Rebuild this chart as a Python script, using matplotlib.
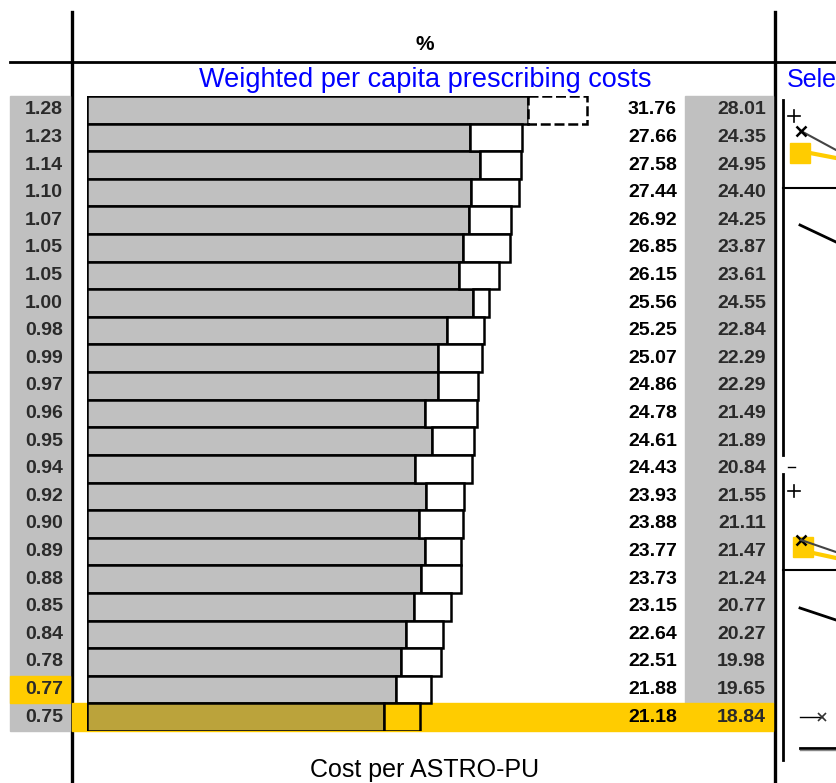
import matplotlib
matplotlib.use("Agg")
import matplotlib.pyplot as plt
from matplotlib.patches import Rectangle
from matplotlib.transforms import blended_transform_factory

plt.rcParams['font.family'] = ['Liberation Sans', 'DejaVu Sans']

# values, one row per practice
ratio = [1.28, 1.23, 1.14, 1.10, 1.07, 1.05, 1.05, 1.00, 0.98, 0.99, 0.97, 0.96,
         0.95, 0.94, 0.92, 0.90, 0.89, 0.88, 0.85, 0.84, 0.78, 0.77, 0.75]
cost_weighted = [31.76, 27.66, 27.58, 27.44, 26.92, 26.85, 26.15, 25.56, 25.25, 25.07, 24.86, 24.78,
                 24.61, 24.43, 23.93, 23.88, 23.77, 23.73, 23.15, 22.64, 22.51, 21.88, 21.18]
cost_astro = [28.01, 24.35, 24.95, 24.40, 24.25, 23.87, 23.61, 24.55, 22.84, 22.29, 22.29, 21.49,
              21.89, 20.84, 21.55, 21.11, 21.47, 21.24, 20.77, 20.27, 19.98, 19.65, 18.84]
highlight = 22  # selected practice (last row)

n = len(ratio)
rows = list(range(n))
W, H = 836, 783
gold = '#FFCC00'
grey = '#C0C0C0'

fig = plt.figure(figsize=(W / 100, H / 100), dpi=100)

# overlay in pixel units for the sheet grid
ov = fig.add_axes([0, 0, 1, 1], zorder=0)
ov.set_xlim(0, W)
ov.set_ylim(H, 0)
ov.axis('off')

# bar area
px = 15.74  # pixels per unit of cost
ax = fig.add_axes([87 / W, (H - 731) / H, (W - 87) / W, 635 / H], zorder=1)
ax.set_xlim(0, (W - 87) / px)
ax.set_ylim(n - 0.5, -0.5)
ax.axis('off')

tr = blended_transform_factory(ov.transData, ax.transData)

# cell backgrounds
ax.add_patch(Rectangle((10, -0.5), 60, n, transform=tr, color=grey, zorder=0, clip_on=False))
ax.add_patch(Rectangle((685, -0.5), 88, n - 1, transform=tr, color=grey, zorder=0, clip_on=False))
ax.add_patch(Rectangle((72, highlight - 0.5), 701, 1, transform=tr, color=gold, zorder=0, clip_on=False))
ax.add_patch(Rectangle((10, highlight - 1.5), 60, 1, transform=tr, color=gold, zorder=0, clip_on=False))

# bars
bar_cols = [grey] * n
bar_cols[highlight] = '#BBA33B'
ext_cols = ['white'] * n
ext_cols[highlight] = gold
extra = [w - a for w, a in zip(cost_weighted, cost_astro)]
ax.barh(rows, cost_astro, height=1, color=bar_cols, edgecolor='black', linewidth=1.8, zorder=2)
ext = ax.barh(rows, extra, left=cost_astro, height=1, color=ext_cols, edgecolor='black',
              linewidth=1.8, zorder=2)
ext[0].set_linestyle((0, (4, 1.5)))

# row labels
for i in rows:
    c = '#2a2a2a'
    ax.text(63, i, '%.2f' % ratio[i], transform=tr, ha='right', va='center', fontsize=14,
            fontweight='bold', color=c)
    ax.text(677, i, '%.2f' % cost_weighted[i], transform=tr, ha='right', va='center', fontsize=14,
            fontweight='bold', color='black')
    ax.text(766, i, '%.2f' % cost_astro[i], transform=tr, ha='right', va='center', fontsize=14,
            fontweight='bold', color=c)

# grid lines
ov.plot([72, 72], [12, H], color='black', lw=2.4)
ov.plot([10, W], [62, 62], color='black', lw=2.0)
ov.plot([775, 775], [12, H], color='black', lw=2.4)

ov.text(425, 44, '%', ha='center', va='center', fontsize=15, fontweight='bold')
ov.text(425, 80, 'Weighted per capita prescribing costs', ha='center', va='center',
        fontsize=19.5, color='#0000FF')
ov.text(425, 770, 'Cost per ASTRO-PU', ha='center', va='center', fontsize=18)

# neighbouring panel, cut off at the right edge
ov.text(787, 80, 'Sele', ha='left', va='center', fontsize=18, color='#0000FF')
ov.plot([783, 783], [100, 455], color='black', lw=2)
ov.plot([783, 783], [474, 760], color='black', lw=2)
ov.plot([783, W], [188, 188], color='black', lw=1.5)
ov.plot([783, W], [570, 570], color='black', lw=1.5)
for y0 in (116, 491):
    ov.plot([788, 800], [y0, y0], color='black', lw=1.2)
    ov.plot([794, 794], [y0 - 6, y0 + 6], color='black', lw=1.2)
ov.plot([801, W], [131, 150], color='#444444', lw=1.5)
ov.plot([801], [131], marker='x', color='black', ms=7, mew=1.8)
ov.add_patch(Rectangle((790, 143), 20, 20, color=gold))
ov.plot([810, W], [153, 158], color=gold, lw=3)
ov.plot([801], [540], marker='x', color='black', ms=7, mew=1.8)
ov.plot([801, W], [540, 552], color='#444444', lw=1.5)
ov.add_patch(Rectangle((793, 537), 20, 20, color=gold))
ov.plot([813, W], [553, 558], color=gold, lw=3)
ov.plot([800, W], [225, 242], color='black', lw=2)
ov.plot([800, W], [608, 620], color='black', lw=2)
ov.plot([788, 795], [467, 467], color='black', lw=1)
ov.plot([800, 822], [717, 717], color='black', lw=1)
ov.plot([822], [717], marker='x', color='#333333', ms=6, mew=1.2)
ov.plot([800, W], [748, 748], color='black', lw=2)
ov.plot([800, W], [750, 750], color='#888888', lw=1)

fig.savefig('out.png', dpi=100)
